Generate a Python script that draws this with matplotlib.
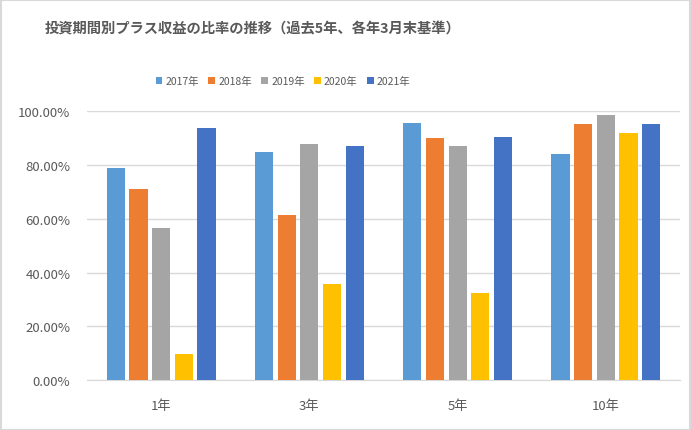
import matplotlib
matplotlib.use("Agg")
import matplotlib.pyplot as plt
import numpy as np
from matplotlib.ticker import FuncFormatter
from matplotlib.patches import Rectangle

plt.rcParams['font.family'] = ['Noto Sans CJK JP', 'DejaVu Sans']

# data (share of periods with positive return)
periods = ['1年', '3年', '5年', '10年']
years = ['2017年', '2018年', '2019年', '2020年', '2021年']
y2017 = [78.9, 84.9, 95.6, 84.1]
y2018 = [71.1, 61.4, 90.1, 95.3]
y2019 = [56.6, 87.8, 87.1, 98.6]
y2020 = [9.7, 35.7, 32.4, 91.9]
y2021 = [93.8, 87.1, 90.4, 95.3]
colors = ['#5B9BD5', '#ED7D31', '#A5A5A5', '#FFC000', '#4472C4']

series = [y2017, y2018, y2019, y2020, y2021]

fig = plt.figure(figsize=(6.91, 4.31), dpi=100)
ax = fig.add_axes([0.126, 0.116, 0.858, 0.6234])

x = np.arange(len(periods))
w = 0.122
pitch = 0.153
for i, (vals, lab, c) in enumerate(zip(series, years, colors)):
    ax.bar(x + (i - 2) * pitch, vals, width=w, color=c, label=lab, zorder=3)

ax.set_xlim(-0.5, len(periods) - 0.5)
ax.set_ylim(0, 100)
ax.set_yticks(np.arange(0, 101, 20))
ax.yaxis.set_major_formatter(FuncFormatter(lambda v, p: f'{v:.2f}%'))
ax.set_xticks(x)
ax.set_xticklabels(periods)
ax.grid(axis='y', color='#D9D9D9', linewidth=1, zorder=0)
for s in ['top', 'right', 'left']:
    ax.spines[s].set_visible(False)
ax.spines['bottom'].set_color('#D9D9D9')
ax.tick_params(length=0, colors='#595959', labelsize=9.5)
ax.tick_params(axis='y', pad=12)
ax.tick_params(axis='x', pad=14)

fig.text(253 / 691, 1 - 30 / 431, '投資期間別プラス収益の比率の推移（過去5年、各年3月末基準）',
         ha='center', va='center', fontsize=10.3, fontweight='bold', color='#595959')

fig.legend(loc='center', bbox_to_anchor=(283 / 691, 1 - 82 / 431), ncol=5, frameon=False,
           fontsize=7.5, labelcolor='#595959', handlelength=0.65, handleheight=0.65,
           handletextpad=0.3, columnspacing=0.9)

fig.patches.append(Rectangle((0.001, 0.001), 0.997, 0.997, transform=fig.transFigure,
                             fill=False, edgecolor='#D9D9D9', linewidth=1.5))

fig.savefig('out.png', dpi=100)
